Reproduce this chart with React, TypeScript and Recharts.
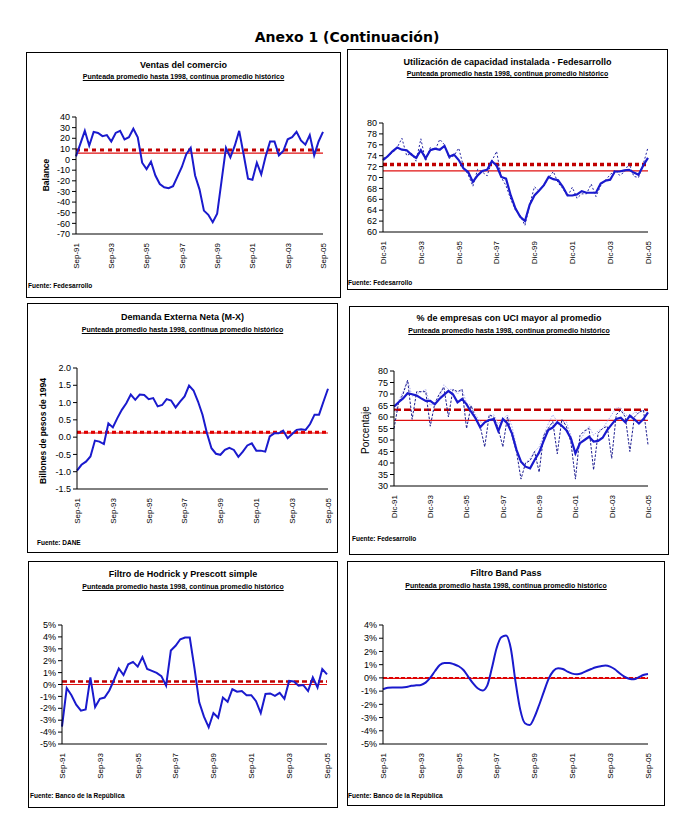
import { LineChart, Line, XAxis, YAxis, ReferenceLine } from "recharts";

// quarterly categories
const SEP_QUARTERS = [
  "Sep-91", "Dic-91", "Mar-92", "Jun-92", "Sep-92", "Dic-92", "Mar-93", "Jun-93",
  "Sep-93", "Dic-93", "Mar-94", "Jun-94", "Sep-94", "Dic-94", "Mar-95", "Jun-95",
  "Sep-95", "Dic-95", "Mar-96", "Jun-96", "Sep-96", "Dic-96", "Mar-97", "Jun-97",
  "Sep-97", "Dic-97", "Mar-98", "Jun-98", "Sep-98", "Dic-98", "Mar-99", "Jun-99",
  "Sep-99", "Dic-99", "Mar-00", "Jun-00", "Sep-00", "Dic-00", "Mar-01", "Jun-01",
  "Sep-01", "Dic-01", "Mar-02", "Jun-02", "Sep-02", "Dic-02", "Mar-03", "Jun-03",
  "Sep-03", "Dic-03", "Mar-04", "Jun-04", "Sep-04", "Dic-04", "Mar-05", "Jun-05",
  "Sep-05",
];
const DIC_QUARTERS = [
  "Dic-91", "Mar-92", "Jun-92", "Sep-92", "Dic-92", "Mar-93", "Jun-93", "Sep-93",
  "Dic-93", "Mar-94", "Jun-94", "Sep-94", "Dic-94", "Mar-95", "Jun-95", "Sep-95",
  "Dic-95", "Mar-96", "Jun-96", "Sep-96", "Dic-96", "Mar-97", "Jun-97", "Sep-97",
  "Dic-97", "Mar-98", "Jun-98", "Sep-98", "Dic-98", "Mar-99", "Jun-99", "Sep-99",
  "Dic-99", "Mar-00", "Jun-00", "Sep-00", "Dic-00", "Mar-01", "Jun-01", "Sep-01",
  "Dic-01", "Mar-02", "Jun-02", "Sep-02", "Dic-02", "Mar-03", "Jun-03", "Sep-03",
  "Dic-03", "Mar-04", "Jun-04", "Sep-04", "Dic-04", "Mar-05", "Jun-05", "Sep-05",
  "Dic-05",
];

// Ventas del comercio (balance)
const ventasComercio = [
  3, 15, 27, 13, 26, 25, 22, 23, 17, 25, 27, 19, 21, 29, 21, -3, -9, -2, -15, -23,
  -26, -27, -25, -16, -7, 5, 11, -15, -28, -48, -52, -59, -51, -20, 11, 2, 13, 27, 5, -18,
  -19, -3, -14, 3, 17, 17, 4, 8, 19, 21, 26, 18, 14, 23, 4, 17, 26,
];
const ventasAvg98 = 9;
const ventasAvgHist = 6;

// Utilización de capacidad instalada
const uciSuavizada = [
  73.2, 73.9, 74.8, 75.5, 75.1, 75.0, 74.2, 73.6, 75.0, 73.5, 75.0, 75.3, 75.1, 75.8, 73.8,
  74.2, 73.2, 71.7, 71.0, 69.2, 70.4, 71.2, 71.4, 73.0, 72.2, 70.1, 69.8, 66.7, 64.3, 62.8,
  62.0, 65.0, 66.7, 67.6, 68.6, 70.1, 69.7, 69.5, 68.3, 66.7, 66.7, 66.9, 67.5, 67.2, 67.2,
  67.2, 68.9, 69.4, 69.6, 71.1, 71.1, 71.3, 71.4, 70.9, 70.5, 72.2, 73.6,
];
const uciOriginal = [
  73.5, 74, 74.5, 75.5, 77.2, 74, 74.5, 73, 77.1, 73, 75.5, 75, 77, 76, 73.5, 74, 75.4,
  72, 70.5, 68.4, 71.5, 71, 70.3, 73, 74.8, 70, 68.5, 66, 64, 63, 61.2, 65, 68.3, 67.5,
  68.5, 70, 71.1, 69, 68, 66.5, 68.2, 66.2, 67, 67, 68.8, 66.5, 68.5, 69.5, 70.5, 71.4,
  70.4, 71, 72.6, 70.2, 70, 72.5, 75.5,
];
const uciAvg98 = 72.4;
const uciAvgHist = 71.2;

// Demanda externa neta (M-X)
const demandaExterna = [
  -0.97, -0.8, -0.71, -0.56, -0.1, -0.13, -0.2, 0.4, 0.28, 0.55, 0.79, 0.98, 1.23, 1.08,
  1.23, 1.22, 1.1, 1.13, 0.89, 0.93, 1.1, 1.06, 0.86, 1.03, 1.18, 1.49, 1.35, 1.03, 0.65,
  0.11, -0.32, -0.48, -0.51, -0.37, -0.31, -0.37, -0.57, -0.42, -0.24, -0.18, -0.39, -0.39,
  -0.42, 0.02, 0.11, 0.11, 0.19, -0.03, 0.09, 0.21, 0.23, 0.21, 0.38, 0.65, 0.65, 1.03, 1.4,
];
const demandaAvg98 = 0.14;
const demandaAvgHist = 0.12;

// % de empresas con UCI mayor al promedio
const empresasSuavizada = [
  64.5, 66.4, 68.1, 70.3, 69.9, 69.3, 68.1, 67.0, 67.0, 65.5, 67.8, 69.6, 71.3, 69.9, 66.4,
  67.8, 65.5, 62.3, 59.4, 55.5, 57.7, 58.7, 59.1, 53.9, 59.1, 57.2, 52.9, 45.7, 40.6, 38.4,
  37.7, 41.3, 44.6, 49.6, 54.3, 55.4, 57.7, 56.2, 54.3, 50.7, 44.2, 48.6, 50.0, 51.4, 49.3,
  49.6, 51.0, 54.3, 56.8, 59.1, 59.7, 57.7, 60.6, 59.0, 57.2, 59.1, 62.0,
];
const empresasOriginal = [
  55, 66, 70, 76, 59, 71, 71, 71, 56, 66, 70, 73, 60, 72, 71, 72, 55, 65, 59, 56, 47, 61,
  60, 55, 47, 60, 52, 45, 33, 40, 41, 45, 36, 52, 55, 58, 44, 59, 56, 49, 33, 52, 54, 55,
  37, 53, 55, 56, 42, 61, 63, 60, 45, 60, 62, 63, 48,
];
const empresasTrimestral = [
  61, 67, 71, 76, 69, 70, 71, 72, 65, 66, 68, 74, 72, 72, 70, 72, 66, 65, 61, 58, 57, 60,
  61, 57, 59, 61, 56, 47, 40, 40, 42, 45, 47, 52, 57, 61, 58, 57, 58, 52, 43, 50, 53, 56,
  52, 54, 55, 58, 61, 64, 64, 61, 60, 62, 62, 63, 62,
];
const empresasAvg98 = 63.2;
const empresasAvgHist = 58.5;

// Filtro de Hodrick y Prescott simple (%)
const hodrickPrescott = [
  -3.54, -0.3, -0.9, -1.7, -2.2, -2.1, 0.6, -1.9, -1.2, -1.1, -0.5, 0.4, 1.35, 0.8, 1.7,
  1.9, 1.5, 2.3, 1.3, 1.15, 0.97, 0.7, -0.1, 2.85, 3.25, 3.8, 3.95, 3.95, 1.35, -1.5, -2.7,
  -3.6, -2.4, -2.8, -1.1, -1.45, -0.4, -0.6, -0.55, -0.9, -0.9, -1.4, -2.4, -0.8, -0.75,
  -0.95, -0.7, -1.2, 0.3, 0.25, -0.1, -0.05, -0.55, 0.6, -0.25, 1.3, 0.85,
];
const hpAvg98 = 0.25;
const hpAvgHist = 0;

// Filtro Band Pass (%)
const bandPass = [
  -0.86, -0.75, -0.72, -0.72, -0.72, -0.69, -0.6, -0.56, -0.53, -0.36, 0.02, 0.52, 0.98,
  1.13, 1.13, 1.03, 0.88, 0.6, 0.1, -0.4, -0.79, -0.96, -0.6, 0.73, 2.24, 3.07, 3.2, 2.24,
  -0.28, -2.4, -3.43, -3.56, -2.97, -2.05, -1.04, -0.08, 0.52, 0.73, 0.67, 0.47, 0.32, 0.27,
  0.35, 0.52, 0.67, 0.8, 0.88, 0.93, 0.85, 0.65, 0.35, 0.1, -0.06, -0.1, 0.04, 0.22, 0.3,
];
const bpAvg98 = 0;
const bpAvgHist = -0.04;

const ticksVentas = [-70, -60, -50, -40, -30, -20, -10, 0, 10, 20, 30, 40];
const ticksUci = [60, 62, 64, 66, 68, 70, 72, 74, 76, 78, 80];
const ticksDemanda = [-1.5, -1.0, -0.5, 0, 0.5, 1.0, 1.5, 2.0];
const ticksEmpresas = [30, 35, 40, 45, 50, 55, 60, 65, 70, 75, 80];
const ticksHp = [-5, -4, -3, -2, -1, 0, 1, 2, 3, 4, 5];
const ticksBp = [-5, -4, -3, -2, -1, 0, 1, 2, 3, 4];

const SUBTITLE = "Punteada promedio hasta 1998, continua promedio histórico";
const BLUE = "#1a1acd";
const DARK_RED = "#c00000";
const RED = "#e01010";

type Series = {
  key: string;
  values: number[];
  color: string;
  width: number;
  dash?: string;
  curve?: "linear" | "monotone";
};

type PanelProps = {
  box: { x: number; y: number; w: number; h: number };
  plot: { l: number; t: number; r: number; b: number };
  title: string;
  titleY: number;
  subY: number;
  source: string;
  sourceX: number;
  sourceY: number;
  yLabel?: { text: string; x: number; y: number; bold: boolean; size: number };
  categories: string[];
  series: Series[];
  domain: [number, number];
  ticks: number[];
  fmt: (v: number) => string;
  avg98: number;
  avgHist: number;
  dash: { width: number; pattern: string; color: string };
};

function SlantTick(props: any) {
  const { x, y, payload } = props;
  return (
    <g transform={`translate(${x},${y})`}>
      <text transform="rotate(-90)" textAnchor="end" dy="0.35em" fontSize={8} fill="#000">
        {payload.value}
      </text>
    </g>
  );
}

function Panel(p: PanelProps) {
  const XH = 40;
  const data = p.categories.map((q, i) => {
    const row: Record<string, any> = { q };
    p.series.forEach((s) => (row[s.key] = s.values[i]));
    return row;
  });
  const margin = {
    top: p.plot.t - p.box.y,
    right: p.box.x + p.box.w - p.plot.r,
    left: 0,
    bottom: p.box.y + p.box.h - p.plot.b - XH,
  };
  return (
    <div
      style={{
        position: "absolute",
        left: p.box.x,
        top: p.box.y,
        width: p.box.w,
        height: p.box.h,
        border: "1px solid #000",
        boxSizing: "border-box",
      }}
    >
      <div
        style={{
          position: "absolute",
          left: 0,
          right: 0,
          top: p.titleY - p.box.y - 6,
          textAlign: "center",
          fontSize: 9,
          lineHeight: "11px",
          fontWeight: "bold",
        }}
      >
        {p.title}
      </div>
      <div
        style={{
          position: "absolute",
          left: 0,
          right: 0,
          top: p.subY - p.box.y - 5,
          textAlign: "center",
          fontSize: 7,
          lineHeight: "9px",
          fontWeight: "bold",
          textDecoration: "underline",
        }}
      >
        {p.subtitle ?? SUBTITLE}
      </div>
      <div
        style={{
          position: "absolute",
          left: p.sourceX - p.box.x - 1,
          top: p.sourceY - p.box.y - 4,
          fontSize: 6.5,
          lineHeight: "8px",
          fontWeight: "bold",
          whiteSpace: "nowrap",
        }}
      >
        {p.source}
      </div>
      {p.yLabel && (
        <div
          style={{
            position: "absolute",
            left: p.yLabel.x - p.box.x - 1,
            top: p.yLabel.y - p.box.y - 1,
            transform: "translate(-50%, -50%) rotate(-90deg)",
            fontSize: p.yLabel.size,
            lineHeight: 1,
            fontWeight: p.yLabel.bold ? "bold" : "normal",
            whiteSpace: "nowrap",
          }}
        >
          {p.yLabel.text}
        </div>
      )}
      <div style={{ position: "absolute", left: -1, top: -1 }}>
        <LineChart width={p.box.w} height={p.box.h} data={data} margin={margin}>
          <XAxis
            dataKey="q"
            interval={7}
            tickLine={false}
            tickSize={0}
            tickMargin={9}
            height={XH}
            axisLine={{ stroke: "#000" }}
            tick={(t: any) => <SlantTick {...t} />}
          />
          <YAxis
            width={p.plot.l - p.box.x}
            domain={p.domain}
            ticks={p.ticks}
            interval={0}
            allowDataOverflow
            tickSize={4}
            tickMargin={2}
            tickFormatter={p.fmt}
            tick={{ fill: "#000", fontSize: 9 }}
            axisLine={{ stroke: "#000" }}
            tickLine={{ stroke: "#000" }}
          />
          <ReferenceLine y={p.avgHist} stroke={RED} strokeWidth={1.2} />
          <ReferenceLine
            y={p.avg98}
            stroke={p.dash.color}
            strokeWidth={p.dash.width}
            strokeDasharray={p.dash.pattern}
          />
          {p.series.map((s) => (
            <Line
              key={s.key}
              dataKey={s.key}
              type={s.curve ?? "linear"}
              stroke={s.color}
              strokeWidth={s.width}
              strokeDasharray={s.dash}
              dot={false}
              activeDot={false}
              isAnimationActive={false}
            />
          ))}
        </LineChart>
      </div>
    </div>
  );
}

const oneDecimal = (v: number) => v.toFixed(1);
const plain = (v: number) => String(v);
const pct = (v: number) => `${v}%`;

export default function App() {
  return (
    <div
      style={{
        position: "absolute",
        left: 0,
        top: 0,
        width: 678,
        height: 819,
        background: "#fff",
        fontFamily: '"Liberation Sans", Arial, sans-serif',
        color: "#000",
      }}
    >
      <div
        style={{
          position: "absolute",
          left: 0,
          width: 694,
          top: 29,
          textAlign: "center",
          fontFamily: '"DejaVu Sans", Verdana, sans-serif',
          fontWeight: "bold",
          fontSize: 14,
          lineHeight: "16px",
        }}
      >
        Anexo 1 (Continuación)
      </div>

      <Panel
        box={{ x: 26, y: 52, w: 315, h: 246 }}
        plot={{ l: 76, t: 117, r: 323, b: 234 }}
        title="Ventas del comercio"
        titleY={65}
        subY={76}
        source="Fuente: Fedesarrollo"
        sourceX={28}
        sourceY={285}
        yLabel={{ text: "Balance", x: 46, y: 175, bold: true, size: 8.5 }}
        categories={SEP_QUARTERS}
        series={[{ key: "ventas", values: ventasComercio, color: BLUE, width: 2 }]}
        domain={[-70, 40]}
        ticks={ticksVentas}
        fmt={plain}
        avg98={ventasAvg98}
        avgHist={ventasAvgHist}
        dash={{ width: 3, pattern: "4 4", color: DARK_RED }}
      />

      <Panel
        box={{ x: 347, y: 49, w: 321, h: 241 }}
        plot={{ l: 383, t: 123, r: 648, b: 232 }}
        title="Utilización de capacidad instalada - Fedesarrollo"
        titleY={62}
        subY={73}
        source="Fuente: Fedesarrollo"
        sourceX={348}
        sourceY={282}
        categories={DIC_QUARTERS}
        series={[
          { key: "orig", values: uciOriginal, color: "#2424a0", width: 1, dash: "2 2" },
          { key: "suav", values: uciSuavizada, color: BLUE, width: 2.2 },
        ]}
        domain={[60, 80]}
        ticks={ticksUci}
        fmt={plain}
        avg98={uciAvg98}
        avgHist={uciAvgHist}
        dash={{ width: 3.5, pattern: "4 3", color: DARK_RED }}
      />

      <Panel
        box={{ x: 27, y: 303, w: 311, h: 250 }}
        plot={{ l: 77, t: 368, r: 328, b: 489 }}
        title="Demanda Externa Neta (M-X)"
        titleY={317}
        subY={329}
        source="Fuente: DANE"
        sourceX={37}
        sourceY={542}
        yLabel={{ text: "Billones de pesos de 1994", x: 43, y: 431, bold: true, size: 8.5 }}
        categories={SEP_QUARTERS}
        series={[{ key: "dem", values: demandaExterna, color: BLUE, width: 2 }]}
        domain={[-1.5, 2]}
        ticks={ticksDemanda}
        fmt={oneDecimal}
        avg98={demandaAvg98}
        avgHist={demandaAvgHist}
        dash={{ width: 3, pattern: "4 3", color: "#e00000" }}
      />

      <Panel
        box={{ x: 349, y: 306, w: 320, h: 249 }}
        plot={{ l: 394, t: 371, r: 648, b: 486 }}
        title="% de empresas con UCI mayor al promedio"
        titleY={318}
        subY={330}
        source="Fuente: Fedesarrollo"
        sourceX={352}
        sourceY={538}
        yLabel={{ text: "Porcentaje", x: 366, y: 430, bold: false, size: 10 }}
        categories={DIC_QUARTERS}
        series={[
          { key: "trim", values: empresasTrimestral, color: "#a8a8f0", width: 1, dash: "1.5 1.5" },
          { key: "orig", values: empresasOriginal, color: "#1c1c90", width: 1, dash: "2.5 1.5" },
          { key: "suav", values: empresasSuavizada, color: BLUE, width: 2.2 },
        ]}
        domain={[30, 80]}
        ticks={ticksEmpresas}
        fmt={plain}
        avg98={empresasAvg98}
        avgHist={empresasAvgHist}
        dash={{ width: 2.5, pattern: "7 3", color: DARK_RED }}
      />

      <Panel
        box={{ x: 28, y: 561, w: 310, h: 247 }}
        plot={{ l: 62, t: 625, r: 327, b: 744 }}
        title="Filtro de Hodrick y Prescott simple"
        titleY={574}
        subY={586}
        source="Fuente: Banco de la República"
        sourceX={30}
        sourceY={795}
        categories={SEP_QUARTERS}
        series={[{ key: "hp", values: hodrickPrescott, color: BLUE, width: 2 }]}
        domain={[-5, 5]}
        ticks={ticksHp}
        fmt={pct}
        avg98={hpAvg98}
        avgHist={hpAvgHist}
        dash={{ width: 2.5, pattern: "5 3", color: DARK_RED }}
      />

      <Panel
        box={{ x: 347, y: 561, w: 318, h: 245 }}
        plot={{ l: 383, t: 625, r: 648, b: 744 }}
        title="Filtro Band Pass"
        titleY={573}
        subY={585}
        source="Fuente: Banco de la República"
        sourceX={348}
        sourceY={795}
        categories={SEP_QUARTERS}
        series={[{ key: "bp", values: bandPass, color: BLUE, width: 2, curve: "monotone" }]}
        domain={[-5, 4]}
        ticks={ticksBp}
        fmt={pct}
        avg98={bpAvg98}
        avgHist={bpAvgHist}
        dash={{ width: 2, pattern: "4 2", color: "#e00000" }}
      />
    </div>
  );
}
